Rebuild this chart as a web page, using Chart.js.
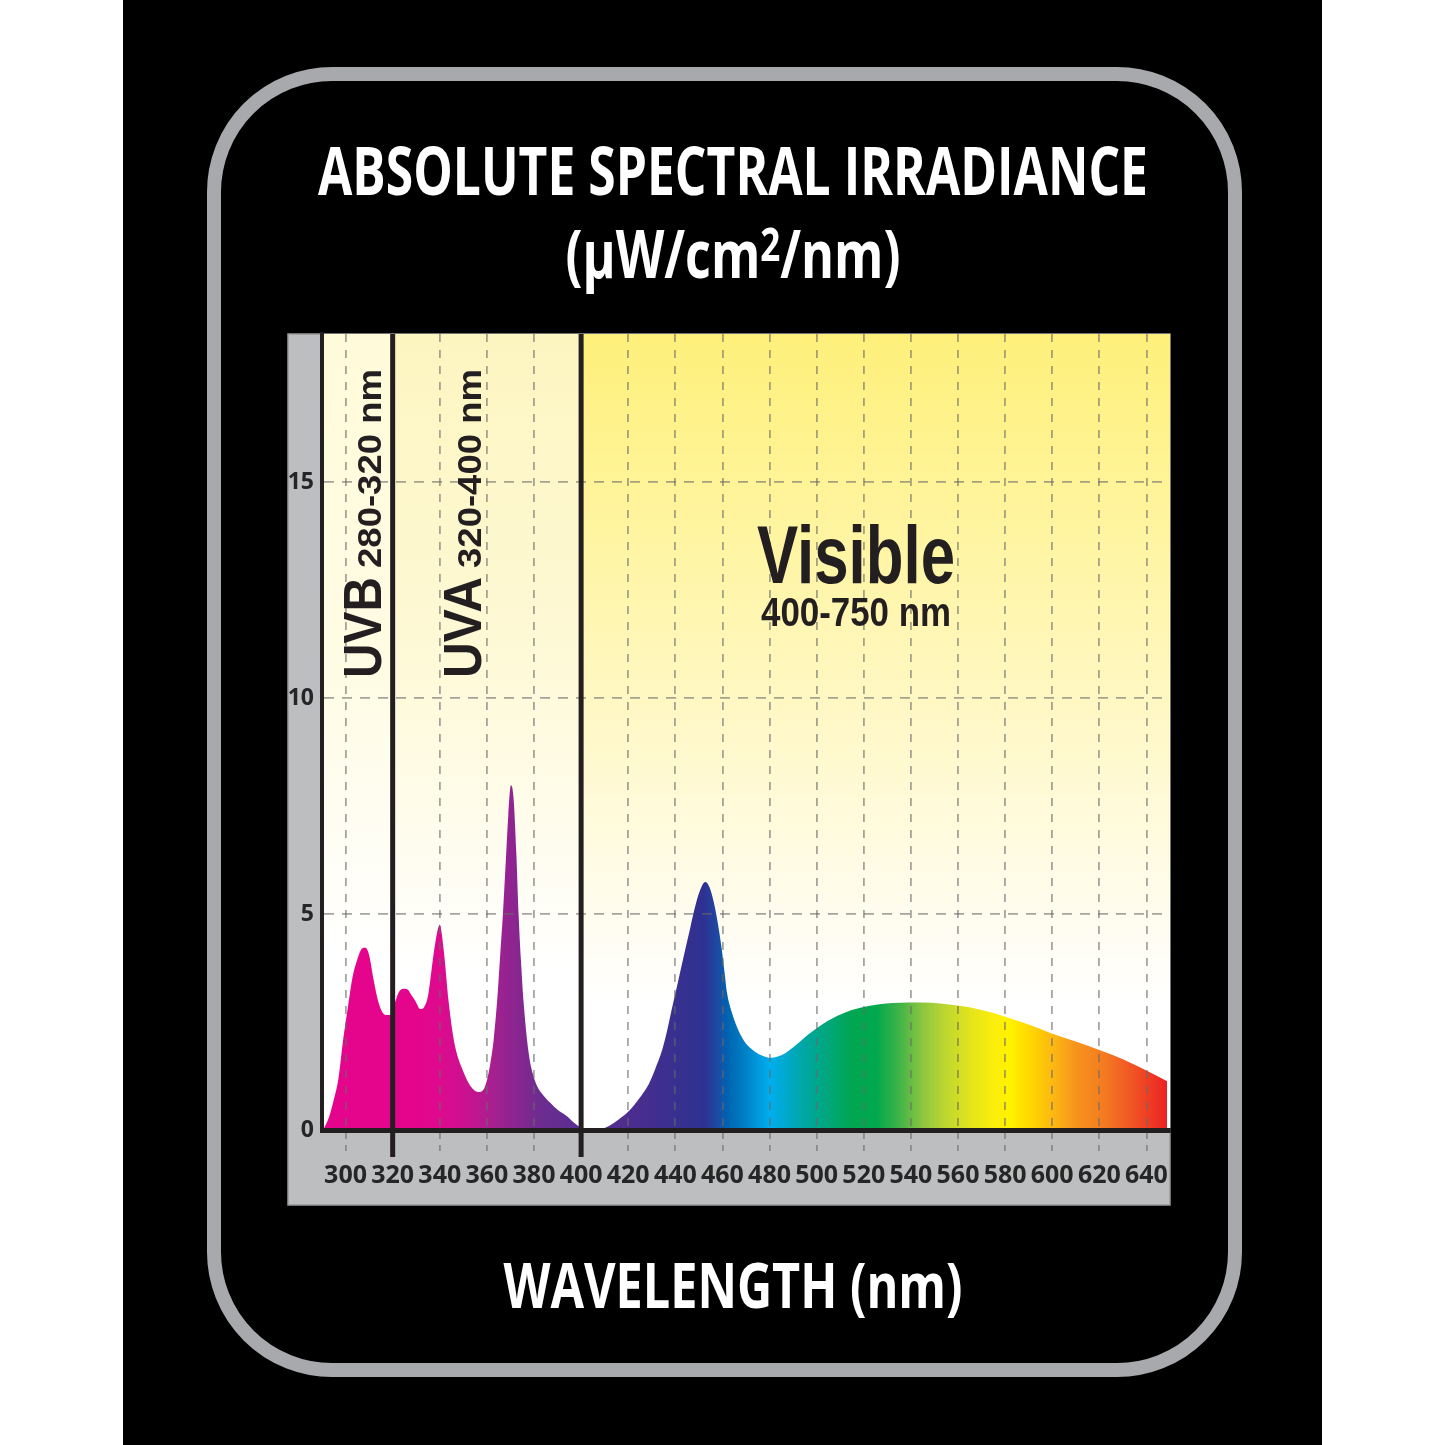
<!DOCTYPE html>
<html>
<head>
<meta charset="utf-8">
<script src="https://cdn.jsdelivr.net/npm/chart.js@4.4.1/dist/chart.umd.min.js"></script>
<style>
  html, body { margin: 0; padding: 0; background: #fff; }
  canvas { display: block; }
</style>
</head>
<body>
<canvas id="spectrum" width="1445" height="1445"></canvas>
<script>
// =============== Data
const wavelengths = [
  290.5, 293, 295, 297, 299, 301, 303, 305, 307, 308.5, 310, 312, 314, 316, 318, 319.8,
  321, 322.6, 324.5, 326.2, 328, 329.5, 331.8, 333.5, 335, 336.5, 338, 340, 341.7, 343.8,
  345.9, 347.5, 349.5, 353, 356.5, 358.5, 360.1, 361.5, 362.9, 364.5, 365.7, 366.8, 368,
  369.1, 370.2, 371.3, 372.5, 373.5, 374.5, 375.6, 377.7, 379.5, 381.3, 384, 386.9, 390,
  394, 397, 400.3, 403, 406, 409, 412, 415.8, 420.6, 424.5, 428.7, 431.5, 434.4, 436.5,
  438.5, 441, 443.3, 446, 448.2, 450.5, 452.7, 454.5, 456.3, 458, 459.5, 461, 461.9, 464,
  466, 469, 472.5, 476.5, 480.5, 483.5, 487, 492, 496.7, 504.8, 512.9, 521, 532.3, 545.2,
  559.8, 570, 579.2, 590, 599.5, 610, 619.7, 630, 639.1, 648.8
];
const irradiance = [
  0, 0.3, 0.7, 1.2, 2.1, 2.85, 3.55, 3.95, 4.2, 4.22, 4.05, 3.45, 2.95, 2.7, 2.66, 2.72,
  2.95, 3.19, 3.27, 3.26, 3.12, 3.0, 2.8, 2.86, 3.1, 3.7, 4.3, 4.75, 4.15, 2.95,
  2.1, 1.72, 1.42, 1.02, 0.88, 0.93, 1.17, 1.55, 2.1, 3.1, 4.1, 5.0, 6.2,
  7.3, 7.98, 7.7, 6.4, 4.95, 3.9, 2.95, 1.8, 1.3, 1.02, 0.8, 0.63, 0.47,
  0.32, 0.17, 0.05, 0.01, 0, 0.03, 0.1, 0.24, 0.46, 0.72, 1.06, 1.42, 1.85, 2.3,
  2.8, 3.4, 3.96, 4.6, 5.13, 5.55, 5.74, 5.62, 5.28, 4.8, 4.27, 3.6, 3.19, 2.72,
  2.41, 2.08, 1.87, 1.73, 1.67, 1.7, 1.79, 2.0, 2.22, 2.53, 2.74, 2.86, 2.94, 2.95,
  2.88, 2.78, 2.64, 2.44, 2.24, 2.05, 1.86, 1.64, 1.4, 1.13
];
const xTicks = [300, 320, 340, 360, 380, 400, 420, 440, 460, 480, 500, 520, 540, 560, 580, 600, 620, 640];
const yTicks = [0, 5, 10, 15];
const bandEdges = [320, 400];
const bandNames = ['UVB', 'UVA', 'Visible'];
const bandRanges = ['280-320 nm', '320-400 nm', '400-750 nm'];

// colour of the fill along the wavelength axis
const spectrumNm = [290, 330, 340, 348, 355, 362, 368, 375, 382, 392, 400, 420, 440, 452, 458, 462, 470, 480,
  488, 496, 505, 515, 525, 535, 545, 555, 565, 575, 582, 592, 600, 610, 622, 632, 642, 650];
const spectrumColors = ['#e4058c', '#e4058c', '#de0a8e', '#d00f8f', '#c0168f', '#a91f90', '#952391', '#83278f',
  '#6e2c90', '#612e91', '#5a2e91', '#4d2d8f', '#38308f', '#2e3192', '#1d4aa2', '#0063b1', '#0082c8', '#00aeef',
  '#00a8c6', '#00a79d', '#00a77a', '#00a651', '#00a84e', '#40b348', '#8dc63f', '#bfd730', '#e2e41b', '#fbed0c',
  '#fff200', '#ffd200', '#fdb913', '#f7941d', '#f47b20', '#f15a24', '#ee3a24', '#ed1c24'];

const xMin = 290, xMax = 650;
const yMin = 0, yMax = 18.43;

const INK = '#231f20';
const TITLE_FONT = '"Open Sans", "DejaVu Sans", sans-serif';
const LABEL_FONT = '"Liberation Sans", Arial, sans-serif';

// text squeezed horizontally to a given width (the original uses condensed faces)
function fitText(ctx, text, x, y, size, width, align, family) {
  ctx.save();
  ctx.font = 'bold ' + size + 'px ' + family;
  const w = ctx.measureText(text).width;
  ctx.translate(x, y);
  ctx.scale(width / w, 1);
  ctx.textAlign = align;
  ctx.textBaseline = 'alphabetic';
  ctx.fillText(text, 0, 0);
  ctx.restore();
}

// several pieces (for the superscript) squeezed together
function fitParts(ctx, parts, cx, y, width, family) {
  ctx.save();
  let total = 0;
  parts.forEach(p => {
    ctx.font = 'bold ' + p.size + 'px ' + family;
    p.w = ctx.measureText(p.t).width;
    total += p.w;
  });
  const k = width / total;
  ctx.translate(cx - width / 2, y);
  ctx.scale(k, 1);
  ctx.textAlign = 'left';
  ctx.textBaseline = 'alphabetic';
  let pos = 0;
  parts.forEach(p => {
    ctx.font = 'bold ' + p.size + 'px ' + family;
    ctx.fillText(p.t, pos, p.dy || 0);
    pos += p.w;
  });
  ctx.restore();
}

function roundRectPath(ctx, x, y, w, h, r) {
  ctx.beginPath();
  ctx.moveTo(x + r, y);
  ctx.arcTo(x + w, y, x + w, y + h, r);
  ctx.arcTo(x + w, y + h, x, y + h, r);
  ctx.arcTo(x, y + h, x, y, r);
  ctx.arcTo(x, y, x + w, y, r);
  ctx.closePath();
}

// =============== Background: panel, frame, grey box, band tints
const backdrop = {
  id: 'backdrop',
  beforeDraw(chart) {
    const { ctx, chartArea: a, scales: { x, y } } = chart;
    ctx.save();
    ctx.fillStyle = '#ffffff';
    ctx.fillRect(0, 0, chart.width, chart.height);
    ctx.fillStyle = '#000000';
    ctx.fillRect(123, 0, 1199, chart.height);

    ctx.strokeStyle = '#a7a9ac';
    ctx.lineWidth = 14;
    roundRectPath(ctx, 214, 74, 1021, 1296, 118);
    ctx.stroke();

    // grey box around the plot (y axis strip + x axis strip)
    ctx.fillStyle = '#bcbec0';
    ctx.fillRect(y.left, a.top, a.right - y.left, x.bottom - a.top);
    ctx.strokeStyle = '#98999b';
    ctx.lineWidth = 1.5;
    ctx.strokeRect(y.left, a.top, a.right - y.left, x.bottom - a.top);

    const edges = [xMin, bandEdges[0], bandEdges[1], xMax];
    const tints = [
      [[0, '#fffbd9'], [0.45, '#fffce6'], [0.78, '#ffffff']],
      [[0, '#fdf5c0'], [0.4, '#fef9d6'], [0.8, '#ffffff']],
      [[0, '#fef07a'], [0.22, '#fff49c'], [0.48, '#fff8c6'], [0.7, '#fffcea'], [0.84, '#ffffff']]
    ];
    for (let i = 0; i < 3; i++) {
      const x0 = x.getPixelForValue(edges[i]);
      const x1 = x.getPixelForValue(edges[i + 1]);
      const g = ctx.createLinearGradient(0, a.top, 0, a.bottom);
      tints[i].forEach(s => g.addColorStop(s[0], s[1]));
      ctx.fillStyle = g;
      ctx.fillRect(x0, a.top, x1 - x0, a.bottom - a.top);
    }
    ctx.restore();
  },
  afterDraw(chart) {
    const { ctx, chartArea: a, scales: { x } } = chart;
    ctx.save();
    // band boundaries, reaching into the tick strip
    ctx.strokeStyle = INK;
    ctx.lineWidth = 5;
    bandEdges.forEach(nm => {
      const px = x.getPixelForValue(nm);
      ctx.beginPath();
      ctx.moveTo(px, a.top);
      ctx.lineTo(px, a.bottom + 27);
      ctx.stroke();
    });

    // band labels
    ctx.fillStyle = INK;
    [[381, 678], [481, 678]].forEach((p, i) => {
      ctx.save();
      ctx.translate(p[0], p[1]);
      ctx.rotate(-Math.PI / 2);
      fitText(ctx, bandNames[i], 0, 0, 53, 101, 'left', LABEL_FONT);
      fitText(ctx, bandRanges[i], 110, 0, 33, 199, 'left', LABEL_FONT);
      ctx.restore();
    });
    fitText(ctx, bandNames[2], 856, 583, 81, 198, 'center', LABEL_FONT);
    fitText(ctx, bandRanges[2], 856, 626, 40, 190, 'center', LABEL_FONT);

    // titles
    ctx.fillStyle = '#ffffff';
    fitText(ctx, 'ABSOLUTE SPECTRAL IRRADIANCE', 733, 195, 66, 830, 'center', TITLE_FONT);
    fitParts(ctx, [
      { t: '(μW/cm', size: 66 },
      { t: '2', size: 46, dy: -17 },
      { t: '/nm)', size: 66 }
    ], 733, 278, 335, TITLE_FONT);
    fitText(ctx, 'WAVELENGTH (nm)', 733, 1308, 63, 459, 'center', TITLE_FONT);
    ctx.restore();
  }
};

// =============== Chart
const ctx = document.getElementById('spectrum');

new Chart(ctx, {
  type: 'line',
  data: {
    datasets: [{
      data: wavelengths.map((nm, i) => ({ x: nm, y: irradiance[i] })),
      fill: 'origin',
      borderWidth: 0,
      borderColor: 'rgba(0,0,0,0)',
      pointRadius: 0,
      cubicInterpolationMode: 'monotone',
      backgroundColor: (c) => {
        const { chart } = c;
        const { chartArea, scales } = chart;
        if (!chartArea) return spectrumColors[0];
        const x0 = scales.x.getPixelForValue(xMin);
        const x1 = scales.x.getPixelForValue(xMax);
        const g = chart.ctx.createLinearGradient(x0, 0, x1, 0);
        spectrumNm.forEach((nm, i) => g.addColorStop((nm - xMin) / (xMax - xMin), spectrumColors[i]));
        return g;
      }
    }]
  },
  options: {
    responsive: false,
    animation: false,
    devicePixelRatio: 1,
    layout: { padding: { left: 288, top: 334, right: 275, bottom: 240 } },
    plugins: { legend: { display: false }, tooltip: { enabled: false } },
    scales: {
      x: {
        type: 'linear',
        min: xMin,
        max: xMax,
        afterBuildTicks: s => { s.ticks = xTicks.map(v => ({ value: v })); },
        afterFit: s => { s.height = 75; },
        ticks: {
          autoSkip: false,
          maxRotation: 0,
          padding: 5,
          color: '#262626',
          font: { family: TITLE_FONT, weight: 'bold', size: 25 }
        },
        grid: {
          color: 'rgba(105,105,105,0.6)',
          lineWidth: 1.8,
          z: 1,
          tickLength: 26,
          tickColor: '#8a8b8d',
          tickWidth: 1.8,
          tickBorderDash: [6, 6]
        },
        border: { color: INK, width: 5, z: 2, dash: [8, 8] }
      },
      y: {
        min: yMin,
        max: yMax,
        afterBuildTicks: s => { s.ticks = yTicks.map(v => ({ value: v })); },
        afterFit: s => { s.width = 34; },
        ticks: {
          padding: 8,
          color: '#262626',
          font: { family: TITLE_FONT, weight: 'bold', size: 23 }
        },
        grid: {
          color: 'rgba(105,105,105,0.6)',
          lineWidth: 1.8,
          z: 1,
          drawTicks: false
        },
        border: { color: INK, width: 4, z: 2, dash: [10, 8] }
      }
    }
  },
  plugins: [backdrop]
});
</script>
</body>
</html>
